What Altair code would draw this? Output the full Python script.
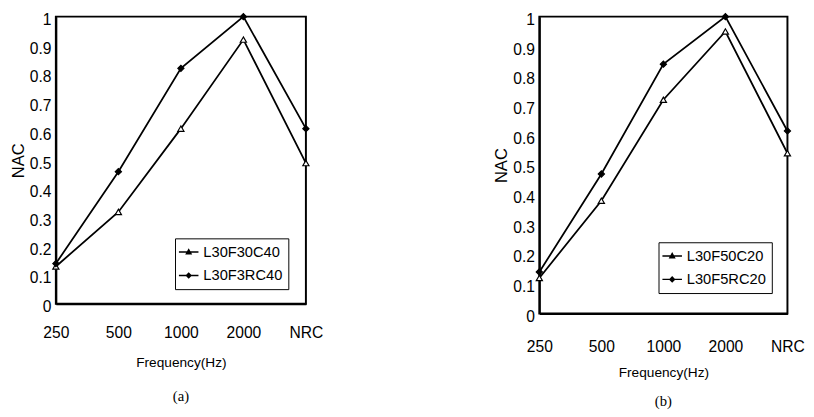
import altair as alt
import pandas as pd

freqs = ["250", "500", "1000", "2000", "NRC"]
y_ticks = [0, 0.1, 0.2, 0.3, 0.4, 0.5, 0.6, 0.7, 0.8, 0.9, 1.0]

a_names = ["L30F30C40", "L30F3RC40"]
a_tri = [0.13, 0.32, 0.61, 0.92, 0.49]
a_dia = [0.14, 0.46, 0.82, 1.00, 0.61]

b_names = ["L30F50C20", "L30F5RC20"]
b_tri = [0.12, 0.38, 0.72, 0.95, 0.54]
b_dia = [0.14, 0.47, 0.84, 1.00, 0.615]

FONT = "Liberation Sans"
SERIF = "Liberation Serif"
LEG_TRI = "M-1.25,-0.09H1.25V0.09H-1.25Z M0,-0.5L0.45,0.32L-0.45,0.32Z"
LEG_DIA = "M-1.25,-0.09H1.25V0.09H-1.25Z M0,-0.42L0.42,0L0,0.42L-0.42,0Z"


def make_df(names, tri, dia):
    rows = []
    for f, v in zip(freqs, tri):
        rows.append({"freq": f, "value": v, "series": names[0]})
    for f, v in zip(freqs, dia):
        rows.append({"freq": f, "value": v, "series": names[1]})
    return pd.DataFrame(rows)


def panel(names, tri, dia, w, h, caption, label_pad, title_pad, cap_off,
          leg_y):
    df = make_df(names, tri, dia)
    x = alt.X("freq:N", sort=freqs,
              scale=alt.Scale(type="point", padding=0),
              axis=alt.Axis(title="Frequency(Hz)", labelAngle=0, ticks=False,
                            labelPadding=label_pad, labelFontSize=16,
                            titleFontSize=14, titleFontWeight="normal",
                            titlePadding=title_pad, labelFlush=False))
    y = alt.Y("value:Q", scale=alt.Scale(domain=[0, 1], nice=False, zero=True),
              axis=alt.Axis(title="NAC", values=y_ticks, format=".1~f",
                            ticks=False, labelPadding=5, labelFontSize=16,
                            labelOffset=3,
                            titleFontSize=17, titleFontWeight="normal",
                            titlePadding=2))
    base = alt.Chart(df)
    lines = base.mark_line(color="black", strokeWidth=1.8).encode(
        x=x, y=y, detail="series:N")
    pts = base.mark_point(filled=True, stroke="black", strokeWidth=1.2,
                          size=40, opacity=1).encode(
        x=x, y=y,
        shape=alt.Shape("series:N",
                        scale=alt.Scale(domain=names, range=["triangle-up", "diamond"]),
                        legend=None),
        fill=alt.Fill("series:N",
                      scale=alt.Scale(domain=names, range=["white", "black"]),
                      legend=None))
    leg = base.transform_filter("false").mark_point(
        filled=True, color="black", opacity=1).encode(
        x=x, y=y,
        shape=alt.Shape("series:N",
                        scale=alt.Scale(domain=names, range=[LEG_TRI, LEG_DIA]),
                        legend=alt.Legend(title=None, orient="none",
                                          legendX=122, legendY=leg_y,
                                          padding=6, symbolSize=256,
                                          labelOffset=7, rowPadding=8,
                                          labelFont=FONT, labelFontSize=15,
                                          labelColor="black",
                                          symbolFillColor="black",
                                          symbolStrokeWidth=0,
                                          symbolOpacity=1,
                                          strokeColor="black",
                                          fillColor="white")))
    return alt.layer(lines, pts, leg).resolve_scale(
        shape="independent", fill="independent").properties(
        width=w, height=h,
        title=alt.TitleParams(caption, orient="bottom", font=SERIF,
                              fontSize=15, fontWeight="normal", offset=cap_off))


pa = panel(a_names, a_tri, a_dia, 256, 294, "(a)", 22, 15, 21, 227)
pb = panel(b_names, b_tri, b_dia, 254, 304, "(b)", 26, 11, 16, 231)

chart = alt.hconcat(pa, pb, spacing=171).resolve_scale(
    shape="independent", fill="independent").resolve_legend(
    shape="independent").properties(
    padding={"left": 0, "top": -3, "right": 0, "bottom": 0},
    background="white"
).configure_view(stroke="black", strokeWidth=2).configure_axis(
    domainColor="black", domainWidth=2, labelColor="black",
    titleColor="black", grid=False, labelFont=FONT, titleFont=FONT
)

chart.save("out.html", embed_options={"renderer": "svg", "actions": False})
